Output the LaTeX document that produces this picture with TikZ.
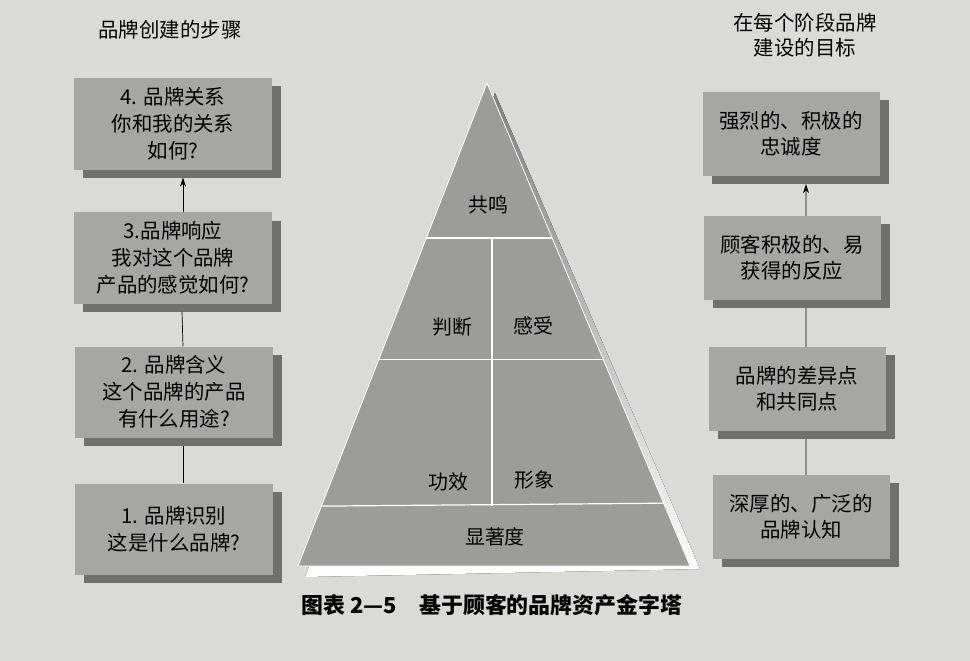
\documentclass[tikz,border=0pt]{standalone}
\usepackage{fontspec}
\setmainfont{Noto Sans CJK SC}
\usetikzlibrary{calc,shadows,arrows.meta}
\tikzset{>={Stealth[length=9bp,width=6bp]}}
\definecolor{paper}{RGB}{218,218,214}
\definecolor{boxgray}{RGB}{166,166,164}
\definecolor{shade}{RGB}{112,112,110}
\definecolor{pyrgray}{RGB}{156,156,154}
\tikzset{
  stepbox/.style={fill=boxgray, align=center, inner sep=0pt,
    font=\fontsize{20.5}{27}\selectfont,
    minimum width=198bp, minimum height=91bp,
    drop shadow={shadow xshift=9bp, shadow yshift=-8bp, fill=shade, opacity=1}},
  goalbox/.style={stepbox, minimum width=177bp, minimum height=84bp,
    font=\fontsize{20.5}{26}\selectfont},
  layer/.style={font=\fontsize{20}{24}\selectfont},
  divider/.style={white, line width=1.2bp},
  link/.style={black, line width=0.7bp}
}

\begin{document}
\begin{tikzpicture}[x=1bp, y=-1bp]
    \fill[paper] (0,0) rectangle (970,661);
    % titles
    \node[font=\fontsize{20.5}{25}\selectfont] (ltitle) at (170,30) {品牌创建的步骤};
    \node[font=\fontsize{20.5}{25}\selectfont, align=center] (rtitle) at (805,35) {在每个阶段品牌\\建设的目标};
    % left column
    \node[stepbox] (s4) at (173,124) {4. 品牌关系\\你和我的关系\\如何?};
    \node[stepbox] (s3) at (173,258) {3.品牌响应\\我对这个品牌\\产品的感觉如何?};
    \node[stepbox] (s2) at (174,392) {2. 品牌含义\\这个品牌的产品\\有什么用途?};
    \node[stepbox] (s1) at (174,529) {1. 品牌识别\\这是什么品牌?};
    \draw[link] ([xshift=9bp]s1.north) -- ([xshift=9bp,yshift=-8bp]s2.south);
    \draw[link] ([xshift=9bp]s2.north) -- ([xshift=9bp,yshift=-8bp]s3.south);
    \draw[link,->] ([xshift=10bp]s3.north) -- ([xshift=10bp,yshift=-8bp]s4.south);
    % right column
    \node[goalbox] (g4) at (791,134) {强烈的、积极的\\忠诚度};
    \node[goalbox] (g3) at (792,258) {顾客积极的、易\\获得的反应};
    \node[goalbox] (g2) at (797,389) {品牌的差异点\\和共同点};
    \node[goalbox] (g1) at (801,517) {深厚的、广泛的\\品牌认知};
    \draw[link] ([xshift=5bp]g1.north) -- ([xshift=9bp,yshift=-8bp]g2.south);
    \draw[link] ([xshift=9bp]g2.north) -- ([xshift=14bp,yshift=-8bp]g3.south);
    \draw[link,->] ([xshift=14bp]g3.north) -- ([xshift=15bp,yshift=-8bp]g4.south);
    % pyramid
    \coordinate (top) at (487,83);
    \coordinate (bl) at (298,566);
    \coordinate (br) at (690,566);
    \fill[shade] ([shift={(8,10)}]top) -- ([shift={(7,11)}]bl) -- ([shift={(10,3)}]br) -- cycle;
    \filldraw[fill=pyrgray, draw=white, line width=0.8bp] (top) -- (bl) -- (br) -- cycle;
    \coordinate (l1) at ($(top)!0.321!(bl)$);
    \coordinate (r1) at ($(top)!0.321!(br)$);
    \coordinate (l2) at ($(top)!0.573!(bl)$);
    \coordinate (r2) at ($(top)!0.573!(br)$);
    \coordinate (l3) at ($(top)!0.876!(bl)$);
    \coordinate (r3) at ($(top)!0.870!(br)$);
    \draw[divider] (l1) -- (r1);
    \draw[divider] (l2) -- (r2);
    \draw[divider] (l3) -- (r3);
    \draw[divider] (492,238) -- (492,506);
    \node[layer] (resonance) at (488,205) {共鸣};
    \node[layer] (judgment) at (452,327) {判断};
    \node[layer] (feeling) at (533,326) {感受};
    \node[layer] (performance) at (448,482) {功效};
    \node[layer] (imagery) at (534,480) {形象};
    \node[layer] (salience) at (495,537) {显著度};
    % caption
    \node[font=\fontsize{22}{26}\selectfont\bfseries] (caption) at (492,605) {图表 2—5\quad 基于顾客的品牌资产金字塔};
\end{tikzpicture}
\end{document}
